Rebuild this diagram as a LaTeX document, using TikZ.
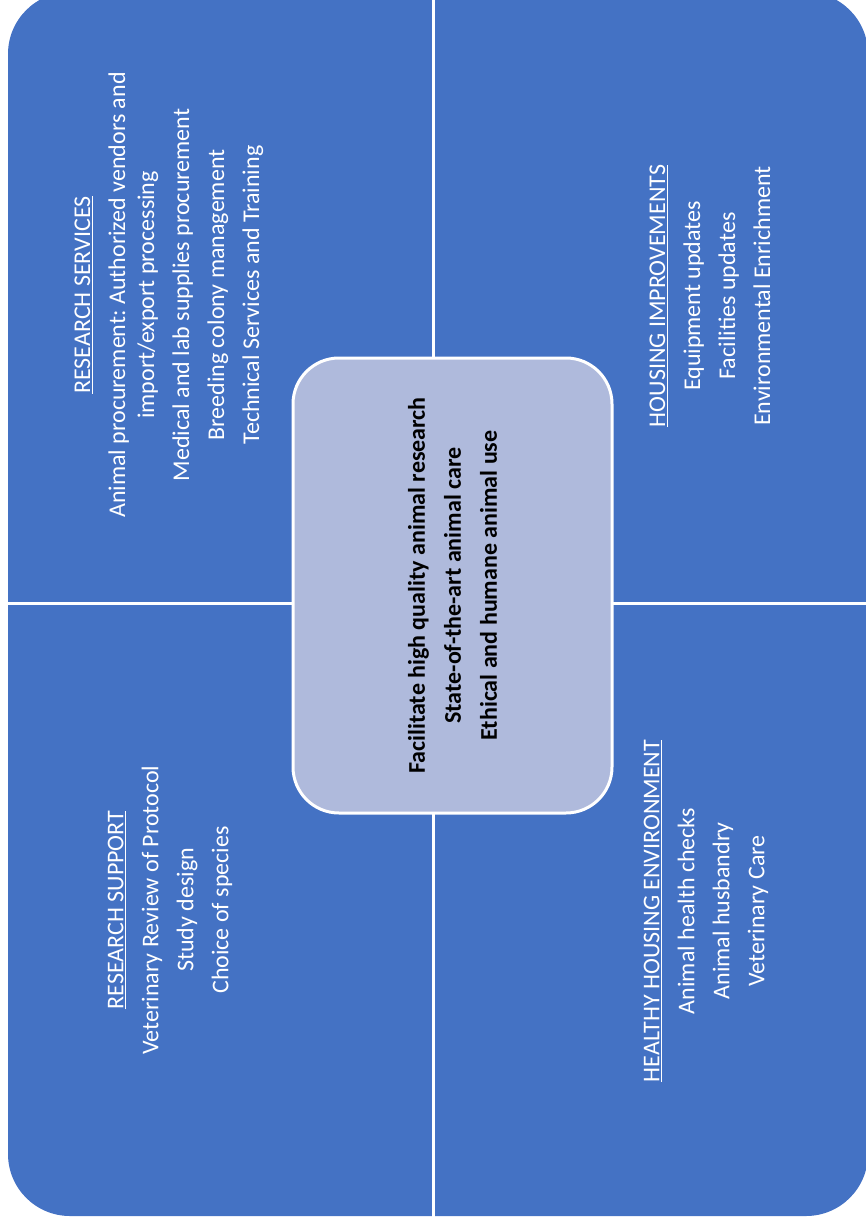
\documentclass[tikz,border=0pt]{standalone}
\usepackage{fontspec}
\setmainfont{Carlito}
\frenchspacing
\definecolor{quadblue}{HTML}{4472C4}
\definecolor{corefill}{HTML}{AFBADC}
\begin{document}
\begin{tikzpicture}[x=1pt,y=1pt,
  quadtext/.style={rotate=90, text=white, align=center, inner sep=0pt,
    font=\fontsize{24}{29}\selectfont},
  corebox/.style={rotate=90, draw=white, line width=3pt, fill=corefill,
    rounded corners=46pt, minimum width=455pt, minimum height=319pt,
    align=center, inner sep=0pt, font=\fontsize{24}{36}\selectfont\bfseries},
  divider/.style={draw=white, line width=3pt}
]
\useasboundingbox (0,0) rectangle (866,-1226);
\begin{scope}
  \clip (0,0) rectangle (866,-1226);
  \fill[quadblue, rounded corners=62pt] (8,8) rectangle (868,-1216);
  \coordinate (vtop) at (433,10);
  \coordinate (vbot) at (433,-1222);
  \coordinate (hleft) at (2,-603);
  \coordinate (hright) at (872,-603);
  \draw[divider] (vtop) -- (vbot);
  \draw[divider] (hleft) -- (hright);
\end{scope}

\node[corebox] (core) at (452.5,-585.5) {Facilitate high quality animal research\\
State-of-the-art animal care\\
Ethical and humane animal use};

\node[quadtext] (rs) at (169,-295) {\underline{RESEARCH SERVICES}\\[6pt]
Animal procurement: Authorized vendors and\\
import/export processing\\[6pt]
Medical and lab supplies procurement\\[6pt]
Breeding colony management\\[6pt]
Technical Services and Training};

\node[quadtext] (hi) at (710,-296) {\underline{HOUSING IMPROVEMENTS}\\[6pt]
Equipment updates\\[6pt]
Facilities updates\\[6pt]
Environmental Enrichment};

\node[quadtext] (rsup) at (170,-910) {\underline{RESEARCH SUPPORT}\\[6pt]
Veterinary Review of Protocol\\[6pt]
Study design\\[6pt]
Choice of species};

\node[quadtext] (hhe) at (706,-911) {\underline{HEALTHY HOUSING ENVIRONMENT}\\[6pt]
Animal health checks\\[6pt]
Animal husbandry\\[6pt]
Veterinary Care};
\end{tikzpicture}
\end{document}
